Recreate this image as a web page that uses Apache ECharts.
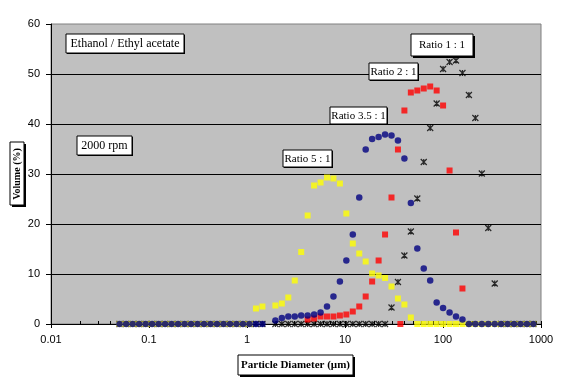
<!DOCTYPE html>
<html><head><meta charset="utf-8">
<script src="https://cdn.jsdelivr.net/npm/echarts@6/dist/echarts.min.js"></script>
<style>html,body{margin:0;padding:0;background:#fff}#c{width:576px;height:381px}</style>
</head><body><div id="c"></div>
<script>
// Particle size bins (µm)
const sizes = [0.050, 0.0585, 0.0681, 0.0793, 0.0924, 0.1076, 0.1253, 0.146, 0.170, 0.198, 0.2306, 0.2686,
  0.3128, 0.3643, 0.4243, 0.4942, 0.5756, 0.6704, 0.7808, 0.9094, 1.059, 1.234, 1.437,
  1.949, 2.268, 2.639, 3.071, 3.573, 4.158, 4.838, 5.630, 6.551, 7.623, 8.872, 10.32, 12.01, 13.98, 16.26,
  18.92, 22.03, 25.63, 29.82, 34.70, 40.38, 46.98, 54.67, 63.62, 74.03, 86.14, 100.2, 116.7, 135.7, 157.9,
  183.8, 213.9, 248.9, 289.6, 337.0, 392.1, 456.3, 530.9, 617.8, 718.9, 836.5];

// Volume (%) per bin
const ratio1 = [0,0,0,0,0,0,0,0,0,0,0,0,0,0,0,0,0,0,0,0,0,0,0,
  0,0,0,0,0,0,0,0,0,0,0,0,0,0,0,0,0,0,
  3.3, 8.4, 13.7, 18.5, 25.1, 32.4, 39.2, 44.1, 51.0, 52.4, 52.7, 50.2, 45.8, 41.2, 30.1, 19.2, 8.1,
  0,0,0,0,0,0];
const ratio2 = [null,null,null,null,null,null,null,null,null,null,null,null,null,null,null,null,null,null,null,null,null,null,null,
  null,null,null,null,null,
  0.9, 1.1, 1.5, 1.5, 1.5, 1.7, 1.9, 2.5, 3.5, 5.5, 8.5, 12.7, 17.9, 25.3, 34.9, 42.7, 46.3, 46.7, 47.1, 47.5,
  46.7, 43.7, 30.7, 18.3, 7.1,
  null,null,null,null,null,null,null,null,null,null,null];
const ratio2ExtraSize = [36.75];
const ratio2ExtraValue = [0];
const ratio35 = [0,0,0,0,0,0,0,0,0,0,0,0,0,0,0,0,0,0,0,0,0,0,0,
  0.7, 1.2, 1.5, 1.5, 1.7, 1.7, 1.9, 2.3, 3.5, 5.5, 8.5, 12.7, 17.9, 25.3, 34.9, 37.0, 37.4, 37.9, 37.7, 36.7,
  33.1, 24.2, 15.1, 11.1, 8.7, 4.3, 3.2, 2.3, 1.5, 0.9,
  0,0,0,0,0,0,0,0,0,0,0];
const ratio5 = [0,0,0,0,0,0,0,0,0,0,0,0,0,0,0,0,0,0,0,0,0, 3.1, 3.5,
  3.7, 4.1, 5.3, 8.7, 14.4, 21.7, 27.7, 28.3, 29.3, 29.1, 28.1, 22.1, 16.1, 14.1, 12.5, 10.1, 9.7, 9.2, 7.5,
  5.1, 3.9, 1.3,
  0,0,0,0,0,0,0,0,0,0,0,0,0,0,0,0,0,0,0];

const xMin = 0.01, xMax = 1000;
const yMin = 0, yMax = 60, yStep = 10;
const decades = [0.01, 0.1, 1, 10, 100];
const minorMultipliers = [1, 2, 3, 4, 5, 6, 7, 8, 9];

const innerTicks = [];
decades.forEach(d => minorMultipliers.forEach(m => innerTicks.push(+(m * d).toPrecision(6))));
innerTicks.push(1000);

function pairs(xs, ys) {
  const out = [];
  for (let i = 0; i < xs.length; i++) if (ys[i] != null) out.push([xs[i], ys[i]]);
  return out;
}

const serif = '"Liberation Serif", "Times New Roman", serif';
const sans = '"Liberation Sans", Arial, sans-serif';

function box(x, y, w, h, text, font, shadow, rot) {
  const children = [];
  if (shadow) children.push({ type: 'rect', z: 100, shape: { x: x + shadow, y: y + shadow, width: w, height: h },
    style: { fill: '#000', stroke: null } });
  children.push({ type: 'rect', z: 101, shape: { x: x, y: y, width: w, height: h },
    style: { fill: '#fff', stroke: '#000', lineWidth: 1 } });
  children.push({ type: 'text', z: 102, x: x + w / 2, y: y + h / 2 + 0.5, rotation: rot || 0,
    style: { text: text, font: font, fill: '#000', align: 'center', verticalAlign: 'middle' } });
  return { type: 'group', z: 100, children: children };
}

const chart = echarts.init(document.getElementById('c'), null, { renderer: 'canvas' });
chart.setOption({
  backgroundColor: '#fff',
  animation: false,
  grid: { left: 51, top: 24, width: 490, height: 300, show: true, backgroundColor: '#C0C0C0',
    borderColor: '#808080', borderWidth: 1 },
  xAxis: [{
    type: 'log', logBase: 10, min: xMin, max: xMax,
    axisLine: { show: true, lineStyle: { color: '#000', width: 1 } },
    axisTick: { show: true, length: 4, lineStyle: { color: '#000' } },
    axisLabel: { color: '#000', fontFamily: sans, fontSize: 11, margin: 10,
      formatter: v => String(+v.toPrecision(6)) },
    splitLine: { show: false }
  }, {
    type: 'log', logBase: 10, min: xMin, max: xMax, gridIndex: 0, position: 'bottom',
    axisLine: { show: false }, axisLabel: { show: false }, splitLine: { show: false },
    axisTick: { show: true, inside: true, length: 3, customValues: innerTicks, lineStyle: { color: '#000' } }
  }],
  yAxis: {
    type: 'value', min: yMin, max: yMax, interval: yStep,
    axisLine: { show: true, lineStyle: { color: '#000', width: 1 } },
    axisTick: { show: true, length: 5, lineStyle: { color: '#000' } },
    axisLabel: { color: '#000', fontFamily: sans, fontSize: 11, margin: 11 },
    splitLine: { show: true, showMaxLine: false, lineStyle: { color: '#000', width: 1 } }
  },
  series: [
    { name: 'Ratio 1 : 1', type: 'scatter', data: pairs(sizes, ratio1),
      symbol: 'path://M0,0L10,10M10,0L0,10M5,0L5,10', symbolSize: 6,
      itemStyle: { color: 'rgba(0,0,0,0)', borderColor: '#000', borderWidth: 1.2 }, z: 2 },
    { name: 'Ratio 5 : 1', type: 'scatter', data: pairs(sizes, ratio5),
      symbol: 'rect', symbolSize: 6, itemStyle: { color: '#FFFF00' }, z: 3 },
    { name: 'Ratio 2 : 1', type: 'scatter', data: pairs(sizes, ratio2).concat(pairs(ratio2ExtraSize, ratio2ExtraValue)),
      symbol: 'rect', symbolSize: 6, itemStyle: { color: '#FF0000' }, z: 4 },
    { name: 'Ratio 3.5 : 1', type: 'scatter', data: pairs(sizes, ratio35),
      symbol: 'circle', symbolSize: 6.5, itemStyle: { color: '#000080' }, z: 5 }
  ],
  graphic: [
    box(66, 34, 118, 19, 'Ethanol / Ethyl acetate', '12px ' + serif, 1),
    box(77, 136, 55, 19, '2000 rpm', '12px ' + serif, 1),
    box(411, 34, 62, 22, 'Ratio 1 : 1', '11px ' + serif, 2),
    box(369, 63, 49, 17, 'Ratio 2 : 1', '11px ' + serif, 1),
    box(330, 107, 57, 17, 'Ratio 3.5 : 1', '11px ' + serif, 1),
    box(283, 150, 49, 17, 'Ratio 5 : 1', '11px ' + serif, 1),
    box(238, 355, 115, 20, 'Particle Diameter (\u00b5m)', 'bold 11px ' + serif, 2),
    box(10, 142, 14, 63, 'Volume (%)', 'bold 10px ' + serif, 2, Math.PI / 2)
  ]
});
</script></body></html>
